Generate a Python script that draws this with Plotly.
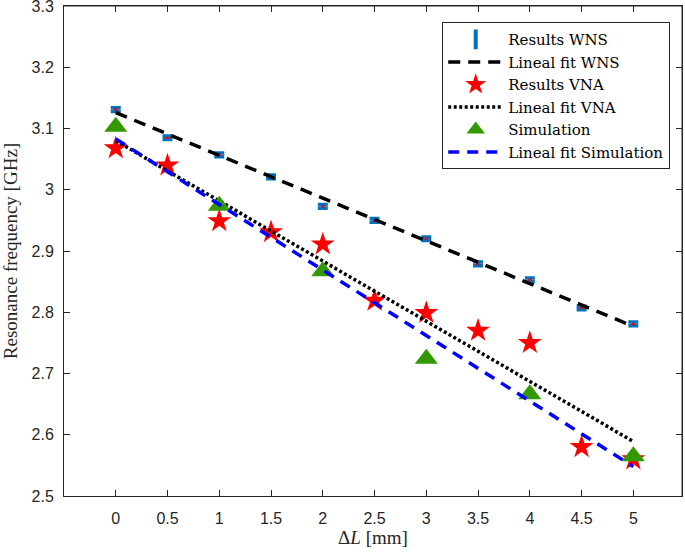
import plotly.graph_objects as go

# ---- data ----
dL = [0, 0.5, 1, 1.5, 2, 2.5, 3, 3.5, 4, 4.5, 5]
wns = [3.131, 3.085, 3.057, 3.021, 2.973, 2.950, 2.920, 2.879, 2.853, 2.807, 2.781]
wns_err = [0.003] * 11
vna = [3.068, 3.040, 2.949, 2.931, 2.911, 2.819, 2.799, 2.770, 2.750, 2.580, 2.560]
sim_x = [0, 1, 2, 3, 4, 5]
sim = [3.103, 2.974, 2.867, 2.724, 2.666, 2.565]
fit_x = [0, 5]
fit_wns = [3.126, 2.777]
fit_vna = [3.080, 2.589]
fit_sim = [3.083, 2.548]

x_ticks = [0, 0.5, 1, 1.5, 2, 2.5, 3, 3.5, 4, 4.5, 5]
y_ticks = [2.5, 2.6, 2.7, 2.8, 2.9, 3.0, 3.1, 3.2, 3.3]
x_range = [-0.5, 5.47]
y_range = [2.5, 3.3001]

SERIF = "Liberation Serif, DejaVu Serif, serif"
LEG_FONT = "DejaVu Serif, Liberation Serif, serif"
SANS = "Liberation Sans, Arial, sans-serif"
AX = "#262626"

fig = go.Figure()
# box frame (top and right edges) built from the axis ranges
fig.add_trace(go.Scatter(
    x=[x_range[0], x_range[1], x_range[1]], y=[y_range[1], y_range[1], y_range[0]],
    mode="lines", line=dict(color=AX, width=1), showlegend=False, hoverinfo="skip",
    cliponaxis=False,
))
fig.add_trace(go.Scatter(
    x=dL, y=wns, mode="markers", name="Results WNS", showlegend=False,
    marker=dict(color="#ff0000", size=3),
    error_y=dict(type="data", array=wns_err, color="#0072BD", thickness=3.5, width=5),
))
# legend entry for the error-bar series
fig.add_trace(go.Scatter(
    x=[None], y=[None], mode="markers", name="Results WNS",
    marker=dict(color="#0072BD", size=14, symbol="line-ns", line=dict(width=4, color="#0072BD")),
))
fig.add_trace(go.Scatter(
    x=fit_x, y=fit_wns, mode="lines", name="Lineal fit WNS",
    line=dict(color="black", width=3.5, dash="12px,8px"),
))
fig.add_trace(go.Scatter(
    x=dL, y=vna, mode="markers", name="Results VNA",
    marker=dict(color="#ff0000", size=18, symbol="star", line=dict(width=0)),
))
fig.add_trace(go.Scatter(
    x=fit_x, y=fit_vna, mode="lines", name="Lineal fit VNA",
    line=dict(color="black", width=3.5, dash="3px,2.5px"),
))
fig.add_trace(go.Scatter(
    x=sim_x, y=sim, mode="markers", name="Simulation",
    marker=dict(color="#339900", size=20, symbol="triangle-up", line=dict(width=0)),
))
fig.add_trace(go.Scatter(
    x=fit_x, y=fit_sim, mode="lines", name="Lineal fit Simulation",
    line=dict(color="#0000ff", width=3.5, dash="11px,8px"),
))

axis_common = dict(
    showgrid=False, zeroline=False, showline=True, linecolor=AX, linewidth=1,
    ticks="inside", ticklen=6, tickwidth=1, tickcolor=AX, mirror="ticks",
    tickfont=dict(family=SANS, size=16, color=AX),
    ticklabeloverflow="allow", automargin=False,
)
fig.update_layout(
    xaxis=dict(
        range=x_range, tickvals=x_ticks, ticktext=[f"{v:g}" for v in x_ticks],
        title=dict(text="Δ<i>L</i> [mm]", font=dict(family=SERIF, size=19, color=AX), standoff=4),
        ticklabelstandoff=8, **axis_common,
    ),
    yaxis=dict(
        range=y_range, tickvals=y_ticks, ticktext=[f"{v:g}" for v in y_ticks],
        title=dict(text="Resonance frequency [GHz]", font=dict(family=SERIF, size=19, color=AX), standoff=8),
        ticklabelstandoff=6, **axis_common,
    ),
    width=685, height=552,
    margin=dict(l=64, r=3, t=6, b=56),
    plot_bgcolor="white", paper_bgcolor="white",
    legend=dict(
        x=0.612, y=0.967, xanchor="left", yanchor="top",
        bordercolor=AX, borderwidth=1, bgcolor="white",
        font=dict(family=LEG_FONT, size=15, color="black"),
        itemwidth=55, tracegroupgap=0,
    ),
)
fig.write_html("out.html", config={"displayModeBar": False},
               post_script="document.body.style.margin='0px';")
